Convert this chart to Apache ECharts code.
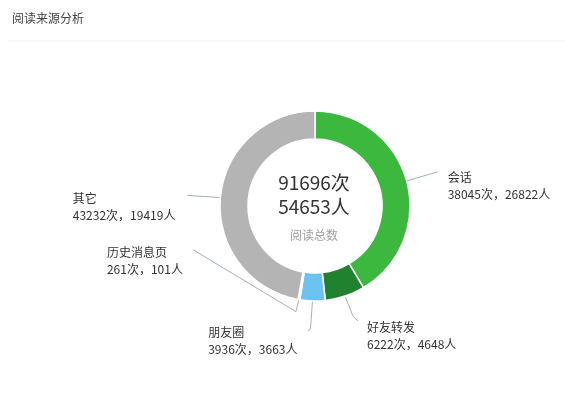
<!DOCTYPE html>
<html>
<head>
<meta charset="utf-8">
<script src="https://cdn.jsdelivr.net/npm/echarts@6/dist/echarts.min.js"></script>
<style>
html,body{margin:0;padding:0;background:#fff;}
#c{width:565px;height:414px;}
</style>
</head>
<body>
<div id="c"></div>
<script>
// ---- data ----
const categories = ['会话', '好友转发', '朋友圈', '历史消息页', '其它'];
const readCounts = [38045, 6222, 3936, 261, 43232];   // 次
const readUsers  = [26822, 4648, 3663, 101, 19419];   // 人
const titleText = '阅读来源分析';
const centerCaption = '阅读总数';

// ---- styles ----
const colors = ['#3cb83f', '#22812f', '#6dc3ef', '#dcecf4', '#b4b4b4'];
const FONT = '"Noto Sans CJK SC", "Noto Sans", sans-serif';

// label guide shapes, relative to the ring point computed by ECharts
const labelGuides = [
  { line: [[31, -9]], text: [41, -12], align: 'left' },
  { line: [[8, 20], [13, 25]], text: [22, 23], align: 'left' },
  { line: [[-2, 28], [-5, 30]], text: [-15, 23], align: 'right' },
  { line: [[-3, 12], [-106, -50]], text: [-116, -56], align: 'right' },
  { line: [[-33, -2]], text: [-45, -8], align: 'right' }
];

const totalCount = readCounts.reduce((a, b) => a + b, 0);
const totalUsers = readUsers.reduce((a, b) => a + b, 0);

const chart = echarts.init(document.getElementById('c'));
const cx = 315, cy = 206;

chart.setOption({
  backgroundColor: '#fff',
  animation: false,
  textStyle: { fontFamily: FONT },
  title: {
    text: titleText,
    left: 12, top: 12, padding: 0,
    textStyle: { fontSize: 12, fontWeight: 'normal', color: '#444', fontFamily: FONT }
  },
  graphic: [
    { type: 'line', shape: { x1: 8, y1: 41, x2: 565, y2: 41 }, style: { stroke: '#efefef', lineWidth: 1 }, silent: true },
    { type: 'text', x: cx - 1, y: 183, style: { text: totalCount + '次', font: '19px ' + FONT, fill: '#333', align: 'center', verticalAlign: 'middle' } },
    { type: 'text', x: cx - 1, y: 207, style: { text: totalUsers + '人', font: '19px ' + FONT, fill: '#333', align: 'center', verticalAlign: 'middle' } },
    { type: 'text', x: cx - 1, y: 235, style: { text: centerCaption, font: '12px ' + FONT, fill: '#a0a0a0', align: 'center', verticalAlign: 'middle' } }
  ],
  series: [{
    type: 'pie',
    center: [cx, cy],
    radius: [67, 95],
    startAngle: 90,
    clockwise: true,
    avoidLabelOverlap: false,
    color: colors,
    itemStyle: { borderColor: '#fff', borderWidth: 1.5 },
    emphasis: { disabled: true },
    label: {
      show: true,
      position: 'outside',
      fontSize: 12,
      lineHeight: 17,
      color: '#333',
      fontFamily: FONT,
      formatter: function (p) {
        return p.name + '\n' + readCounts[p.dataIndex] + '次，' + readUsers[p.dataIndex] + '人';
      }
    },
    labelLine: { show: true, length: 15, length2: 10, lineStyle: { color: '#9fb2c0', width: 1 } },
    labelLayout: function (p) {
      const g = labelGuides[p.dataIndex];
      const pts = p.labelLinePoints;
      if (!g || !pts) return {};
      const a = pts[0];
      const line = [[a[0], a[1]]].concat(g.line.map(d => [a[0] + d[0], a[1] + d[1]]));
      let x = a[0] + g.text[0];
      if (g.align === 'right') x -= p.labelRect.width;
      return {
        x: x,
        y: a[1] + g.text[1],
        align: 'left',
        verticalAlign: 'top',
        labelLinePoints: line
      };
    },
    data: categories.map((name, i) => ({ name: name, value: readCounts[i] }))
  }]
});
</script>
</body>
</html>
